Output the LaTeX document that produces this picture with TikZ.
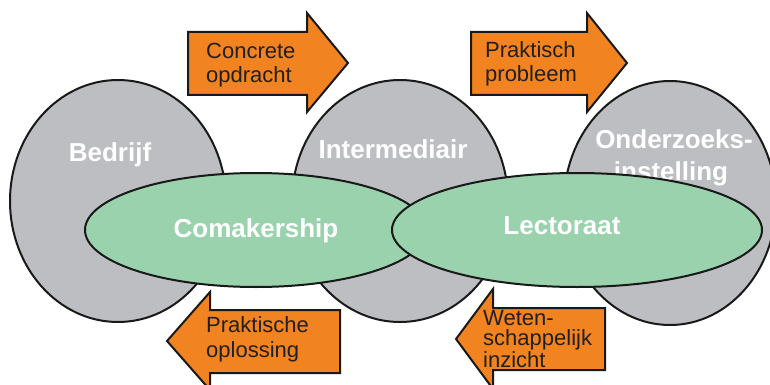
\documentclass[tikz,border=0pt]{standalone}
\usepackage{fontspec}
\setmainfont{Liberation Sans}
\usetikzlibrary{shapes.geometric}
\definecolor{arroworange}{RGB}{241,131,33}
\definecolor{ovalgray}{RGB}{189,190,194}
\definecolor{ovalgreen}{RGB}{153,210,172}
\definecolor{textdark}{RGB}{35,31,32}
\begin{document}
\begin{tikzpicture}[x=1pt,y=-1pt,
  party/.style={ellipse, draw=black!90, line width=2pt, fill=ovalgray, inner sep=0pt},
  group/.style={ellipse, draw=black!90, line width=2pt, fill=ovalgreen, inner sep=0pt},
  bigtext/.style={text=white, font=\fontsize{26}{30}\selectfont\bfseries, inner sep=0pt},
  blockarrow/.style={draw=black!90, line width=2pt, fill=arroworange, line join=miter},
  arrowtext/.style={text=textdark, font=\fontsize{22}{24.5}\selectfont, align=left, inner sep=0pt, anchor=base west}]
\useasboundingbox (0,0) rectangle (770,385);
% grey ovals
\node[party, minimum width=216, minimum height=242] (bedrijf) at (118,201) {};
\node[party, minimum width=216, minimum height=242] (intermediair) at (400,201) {};
\node[party, minimum width=212, minimum height=244] (onderzoek) at (670,203) {};
\node[bigtext, anchor=base] (bedrijflabel) at (110,161) {Bedrijf};
\node[bigtext, anchor=base] (intlabel) at (393,158) {Intermediair};
\node[bigtext, anchor=base] (ozlabela) at (674,148) {Onderzoeks-};
\node[bigtext, anchor=base] (ozlabelb) at (671,180) {instelling};
% green ovals
\node[group, minimum width=342, minimum height=114] (comakership) at (256,230) {};
\node[bigtext, anchor=base] (comaklabel) at (256,237) {Comakership};
\node[group, minimum width=370, minimum height=114] (lectoraat) at (577,230) {};
\node[bigtext, anchor=base] (lectlabel) at (562,234) {Lectoraat};
% block arrows
\draw[blockarrow] (188,32) -- (307,32) -- (307,13) -- (348,63) -- (307,112) -- (307,95) -- (188,95) -- cycle;
\node[arrowtext] (concrete) at (206,83) {Concrete\\opdracht};
\draw[blockarrow] (471,32) -- (587,32) -- (587,13) -- (627,63) -- (587,112) -- (587,95) -- (471,95) -- cycle;
\node[arrowtext] (probleem) at (485,81.5) {Praktisch\\probleem};
\draw[blockarrow] (340,310) -- (210,310) -- (210,292) -- (167,341) -- (210,390) -- (210,373) -- (340,373) -- cycle;
\node[arrowtext] (oplossing) at (206,357) {Praktische\\oplossing};
\draw[blockarrow] (605,308) -- (493,308) -- (493,289) -- (456,339) -- (493,389) -- (493,370) -- (605,370) -- cycle;
\node[arrowtext, font=\fontsize{22}{20}\selectfont] (inzicht) at (483,367) {Weten-\\schappelijk\\inzicht};
\end{tikzpicture}
\end{document}
